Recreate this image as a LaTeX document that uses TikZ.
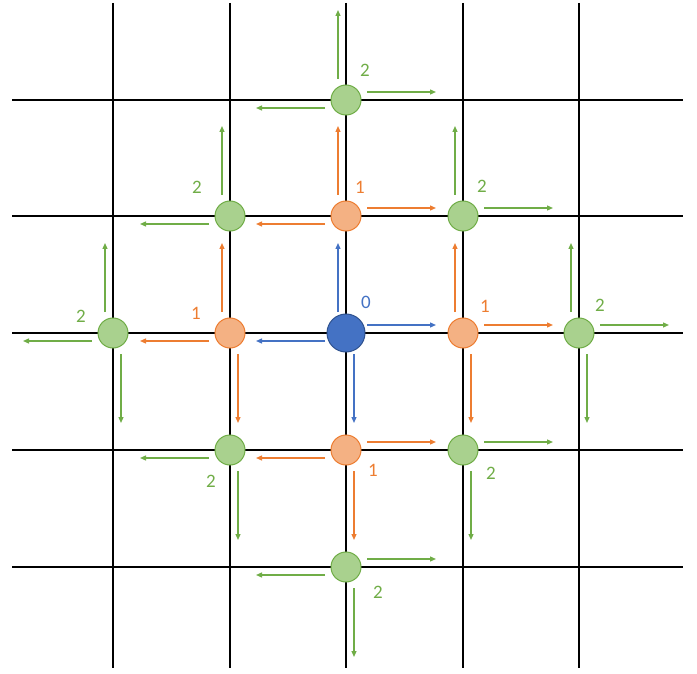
\documentclass[tikz,border=0pt]{standalone}
\usepackage{fontspec}
\setmainfont{Carlito}
\usetikzlibrary{arrows.meta,calc}

\definecolor{lvlzero}{HTML}{4472C4}
\definecolor{lvlzeroline}{HTML}{2F528F}
\definecolor{lvlone}{HTML}{ED7D31}
\definecolor{lvlonefill}{HTML}{F4B183}
\definecolor{lvltwo}{HTML}{70AD47}
\definecolor{lvltwofill}{HTML}{A9D18E}

\begin{document}
\begin{tikzpicture}[
  x=1pt, y=-1pt,
  gridline/.style={line width=2pt, black},
  vertex/.style={circle, inner sep=0pt, line width=1pt},
  start/.style={vertex, minimum size=38pt, fill=lvlzero, draw=lvlzeroline},
  first/.style={vertex, minimum size=30pt, fill=lvlonefill, draw=lvlone},
  second/.style={vertex, minimum size=30pt, fill=lvltwofill, draw=lvltwo},
  step arrow/.style={-{Triangle[length=6pt, width=5pt]}, line width=1.3pt},
  dist/.style={font=\fontsize{19}{19}\selectfont},
]
\useasboundingbox (0,0) rectangle (697,674);

% === GRID ===
\foreach \gx in {113,230,346,463,579}
  \draw[gridline] (\gx,3) -- (\gx,668);
\foreach \gy in {100,216,333,450,567}
  \draw[gridline] (12,\gy) -- (683,\gy);

% === NODES ===
\node[start] (n33) at (346,333) {};
\node[first] (n32) at (346,216) {};
\node[first] (n23) at (230,333) {};
\node[first] (n43) at (463,333) {};
\node[first] (n34) at (346,450) {};
\node[second] (n31) at (346,100) {};
\node[second] (n22) at (230,216) {};
\node[second] (n42) at (463,216) {};
\node[second] (n13) at (113,333) {};
\node[second] (n53) at (579,333) {};
\node[second] (n24) at (230,450) {};
\node[second] (n44) at (463,450) {};
\node[second] (n35) at (346,567) {};

% === ARROWS (node / direction / colour), offset beside the grid line ===
\foreach \n/\ux/\uy/\c in {
    n33/0/-1/lvlzero, n33/1/0/lvlzero, n33/-1/0/lvlzero, n33/0/1/lvlzero,
    n32/0/-1/lvlone, n32/1/0/lvlone, n32/-1/0/lvlone,
    n23/0/-1/lvlone, n23/-1/0/lvlone, n23/0/1/lvlone,
    n43/0/-1/lvlone, n43/1/0/lvlone, n43/0/1/lvlone,
    n34/1/0/lvlone, n34/-1/0/lvlone, n34/0/1/lvlone,
    n31/0/-1/lvltwo, n31/1/0/lvltwo, n31/-1/0/lvltwo,
    n22/0/-1/lvltwo, n22/-1/0/lvltwo,
    n42/0/-1/lvltwo, n42/1/0/lvltwo,
    n13/0/-1/lvltwo, n13/-1/0/lvltwo, n13/0/1/lvltwo,
    n53/0/-1/lvltwo, n53/1/0/lvltwo, n53/0/1/lvltwo,
    n24/-1/0/lvltwo, n24/0/1/lvltwo,
    n44/1/0/lvltwo, n44/0/1/lvltwo,
    n35/1/0/lvltwo, n35/-1/0/lvltwo, n35/0/1/lvltwo}
  \draw[step arrow, \c]
    ($(\n)+(8*\uy+21*\ux, -8*\ux+21*\uy)$) -- ($(\n)+(8*\uy+90*\ux, -8*\ux+90*\uy)$);

% === DISTANCE LABELS ===
\node[dist, text=lvlzero] (l33) at ($(n33)+(20,-31)$) {0};
\node[dist, text=lvlone] (l32) at ($(n32)+(14,-29)$) {1};
\node[dist, text=lvlone] (l23) at ($(n23)+(-34,-20)$) {1};
\node[dist, text=lvlone] (l43) at ($(n43)+(22,-27)$) {1};
\node[dist, text=lvlone] (l34) at ($(n34)+(27,20)$) {1};
\node[dist, text=lvltwo] (l31) at ($(n31)+(19,-30)$) {2};
\node[dist, text=lvltwo] (l22) at ($(n22)+(-33,-29)$) {2};
\node[dist, text=lvltwo] (l42) at ($(n42)+(19,-30)$) {2};
\node[dist, text=lvltwo] (l13) at ($(n13)+(-32,-17)$) {2};
\node[dist, text=lvltwo] (l53) at ($(n53)+(21,-28)$) {2};
\node[dist, text=lvltwo] (l24) at ($(n24)+(-19,31)$) {2};
\node[dist, text=lvltwo] (l44) at ($(n44)+(28,23)$) {2};
\node[dist, text=lvltwo] (l35) at ($(n35)+(32,25)$) {2};
\end{tikzpicture}
\end{document}
